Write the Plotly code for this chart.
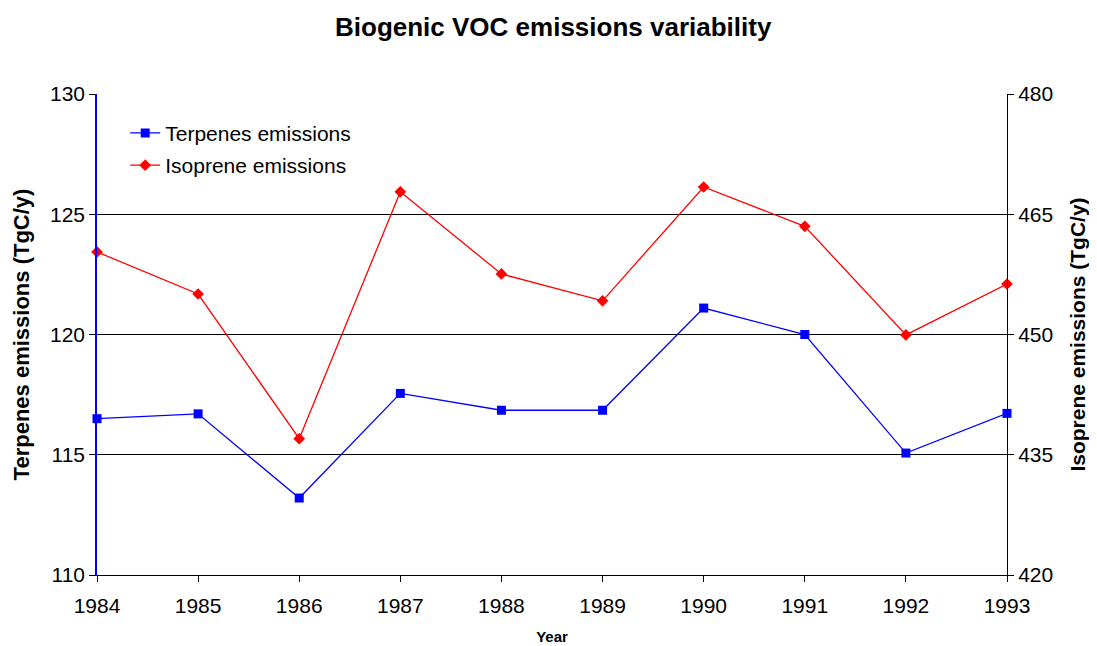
import plotly.graph_objects as go

years = [1984, 1985, 1986, 1987, 1988, 1989, 1990, 1991, 1992, 1993]
terpenes = [116.5, 116.7, 113.2, 117.55, 116.85, 116.85, 121.1, 120.0, 115.07, 116.72]
isoprene = [460.3, 455.05, 437.0, 467.8, 457.55, 454.2, 468.4, 463.5, 449.95, 456.3]

FONT = "Liberation Sans, Arial, sans-serif"

fig = go.Figure()
fig.add_trace(go.Scatter(
    x=years, y=terpenes, name="Terpenes emissions", mode="lines+markers",
    line=dict(color="#0000FF", width=1.3), legendgroup="a",
    marker=dict(symbol="square", size=9, color="#0000FF"),
    cliponaxis=False, yaxis="y"))
fig.add_trace(go.Scatter(
    x=years, y=isoprene, name="Isoprene emissions", mode="lines+markers",
    line=dict(color="#FF0000", width=1.3), legendgroup="b",
    marker=dict(symbol="diamond", size=9, color="#FF0000"),
    cliponaxis=False, yaxis="y2"))

fig.update_layout(
    width=1097, height=646,
    margin=dict(l=89, r=98, t=86, b=79, autoexpand=False),
    paper_bgcolor="white", plot_bgcolor="white",
    font=dict(family=FONT, size=21, color="black"),
    title=dict(text="<b>Biogenic VOC emissions variability</b>", x=0.497, xanchor="center",
               y=0.97, yanchor="middle", font=dict(size=26)),
    showlegend=True,
    legend=dict(x=0.031, y=0.961, xanchor="left", yanchor="top", bgcolor="rgba(0,0,0,0)",
                font=dict(size=21), itemwidth=30, tracegroupgap=2),
    xaxis=dict(range=[1984, 1993], tickmode="array", tickvals=years,
               ticks="outside", ticklen=6, tickcolor="black", showgrid=False,
               showline=True, linecolor="black", linewidth=1, zeroline=False,
               ticklabelstandoff=6, automargin=False,
               title=dict(text="<b>Year</b>", font=dict(size=15), standoff=15),
               tickfont=dict(size=21)),
    yaxis=dict(range=[110, 130], dtick=5, ticks="outside", ticklen=6, tickcolor="black",
               showgrid=True, gridcolor="black", gridwidth=1, automargin=False,
               showline=True, linecolor="#0000FF", linewidth=1.5, zeroline=False,
               title=dict(text="<b>Terpenes emissions (TgC/y)</b>", font=dict(size=22), standoff=14),
               tickfont=dict(size=21)),
    yaxis2=dict(range=[420, 480], dtick=15, ticks="outside", ticklen=6, tickcolor="black",
                overlaying="y", side="right", showgrid=False, automargin=False,
                showline=True, linecolor="black", linewidth=1, zeroline=False,
                title=dict(text="<b>Isoprene emissions (TgC/y)</b>", font=dict(size=21), standoff=18),
                tickfont=dict(size=21)),
)

fig.write_html("out.html")
